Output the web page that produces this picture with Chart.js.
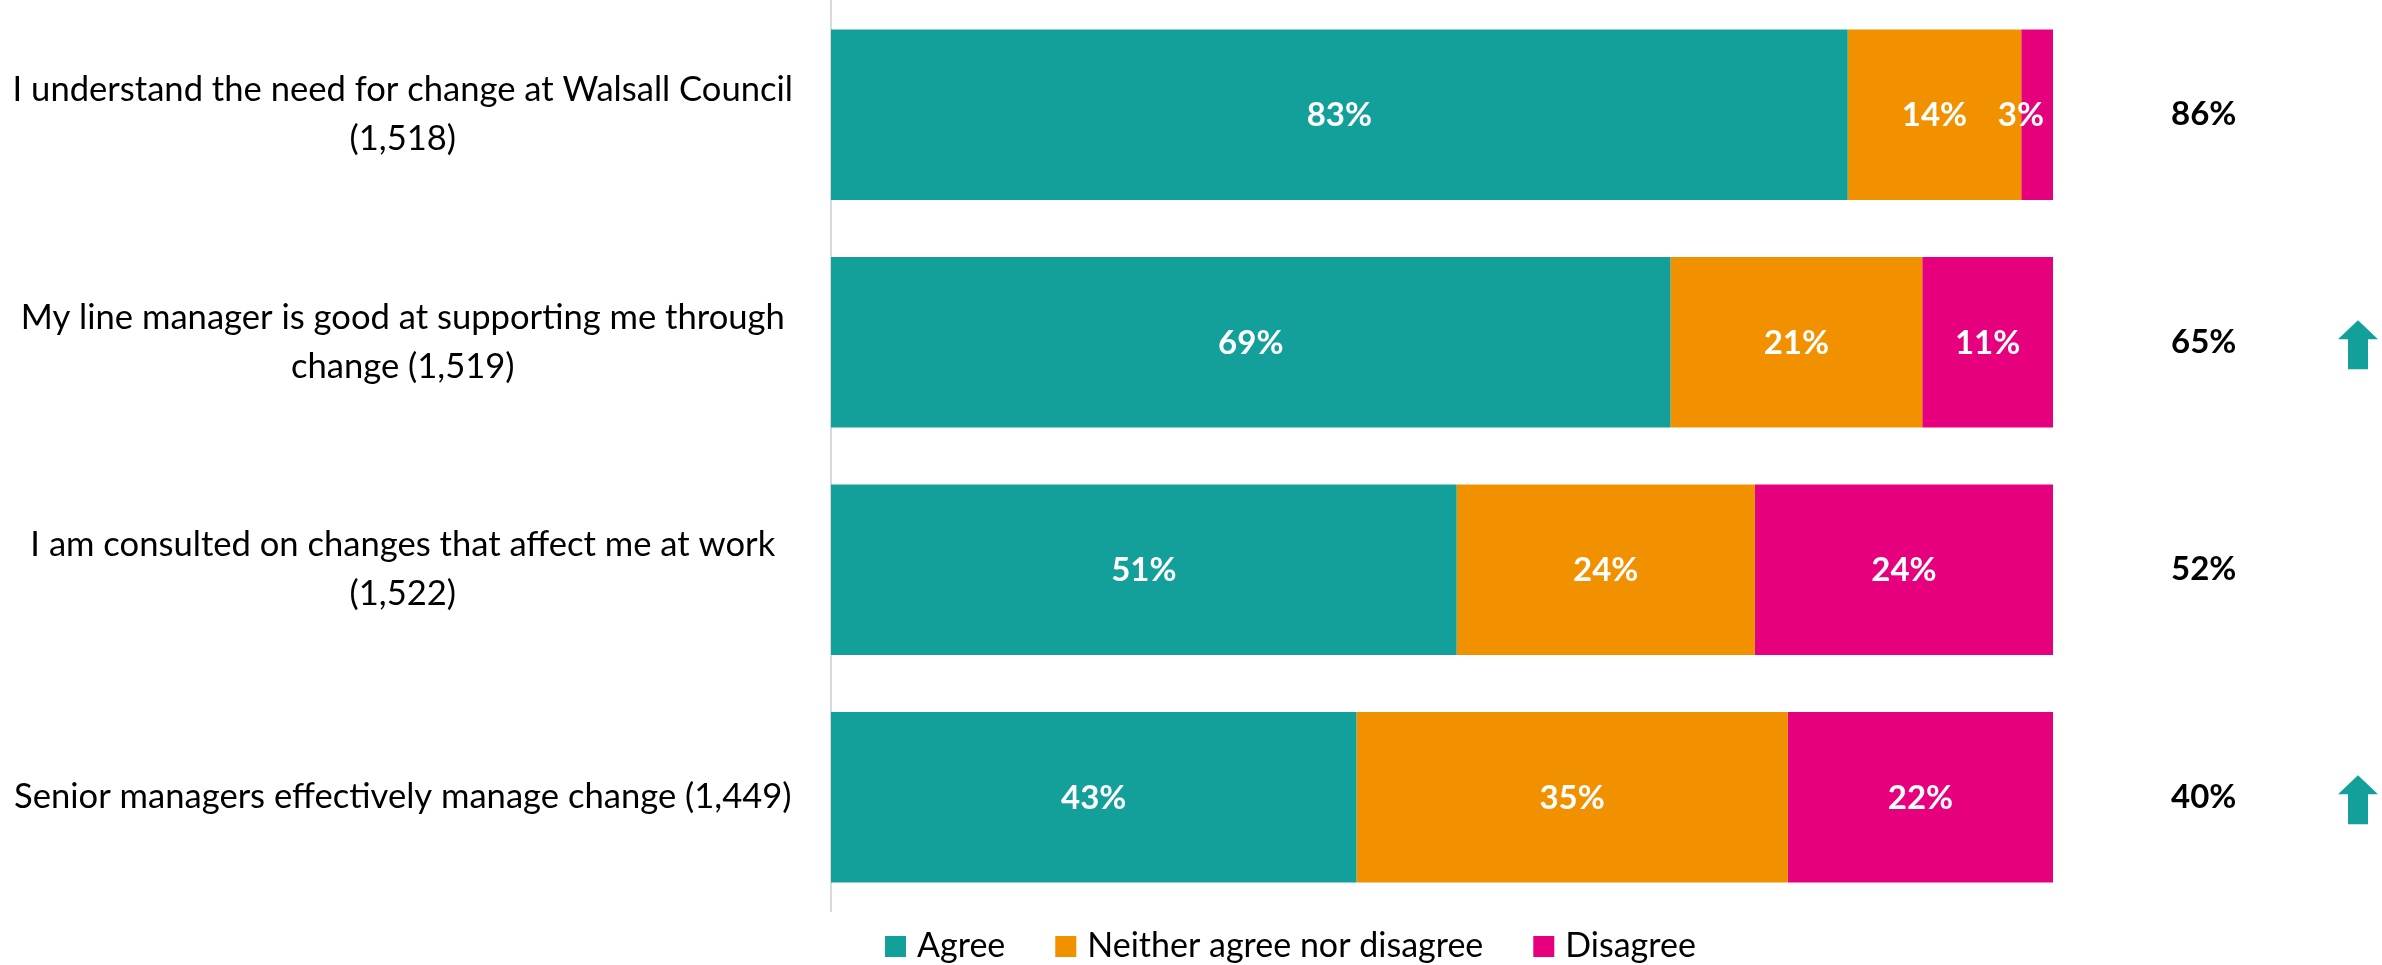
<!DOCTYPE html>
<html>
<head>
<meta charset="utf-8">
<title>Managing change</title>
<script src="https://cdn.jsdelivr.net/npm/chart.js@4.4.1/dist/chart.umd.min.js"></script>
<style>
  html, body { margin: 0; padding: 0; background: #ffffff; }
  #wrap { width: 2382px; height: 965px; position: relative; }
</style>
</head>
<body>
<div id="wrap"><canvas id="chart" width="2382" height="965"></canvas></div>
<script>
// Survey statements (with number of responses)
const categories = [
  ['I understand the need for change at Walsall Council', '(1,518)'],
  ['My line manager is good at supporting me through', 'change (1,519)'],
  ['I am consulted on changes that affect me at work', '(1,522)'],
  ['Senior managers effectively manage change (1,449)']
];

// Response shares, percent of respondents
const agree    = [83.2, 68.7, 51.2, 43.0];
const neither  = [14.2, 20.6, 24.4, 35.3];
const disagree = [2.6, 10.7, 24.4, 21.7];

// Net agreement shown to the right of each bar, and direction of change
const netAgree = [86, 65, 52, 40];
const trend = ['', 'up', '', 'up'];

const seriesNames = ['Agree', 'Neither agree nor disagree', 'Disagree'];
const seriesColors = ['#13A09A', '#F29100', '#E6007E'];

const netLabels = netAgree.map(v => v + '%');
const FONT = 'Lato';

// White percentage labels centred in each segment
const segmentLabels = {
  id: 'segmentLabels',
  afterDatasetsDraw(chart) {
    const { ctx, chartArea } = chart;
    ctx.save();
    ctx.font = 'bold 33px ' + FONT;
    ctx.fillStyle = '#ffffff';
    ctx.textAlign = 'center';
    ctx.textBaseline = 'middle';
    chart.data.datasets.forEach((ds, di) => {
      chart.getDatasetMeta(di).data.forEach((bar, i) => {
        const txt = Math.round(ds.data[i]) + '%';
        const w = ctx.measureText(txt).width;
        let x = (bar.x + bar.base) / 2;
        x = Math.min(x, chartArea.right - 9 - w / 2);
        ctx.fillText(txt, x, bar.y + 1);
      });
    });
    ctx.restore();
  }
};

// Up arrows marking statements that improved
const trendArrows = {
  id: 'trendArrows',
  afterDraw(chart) {
    const { ctx, chartArea } = chart;
    const yScale = chart.scales.y;
    const cx = chartArea.right + 305;
    ctx.save();
    ctx.fillStyle = seriesColors[0];
    trend.forEach((t, i) => {
      if (t !== 'up') return;
      const cy = yScale.getPixelForValue(i);
      const top = cy - 22, neck = cy - 3, bottom = cy + 27;
      ctx.beginPath();
      ctx.moveTo(cx, top);
      ctx.lineTo(cx + 20, neck);
      ctx.lineTo(cx + 10, neck);
      ctx.lineTo(cx + 10, bottom);
      ctx.lineTo(cx - 10, bottom);
      ctx.lineTo(cx - 10, neck);
      ctx.lineTo(cx - 20, neck);
      ctx.closePath();
      ctx.fill();
    });
    ctx.restore();
  }
};

// Legend row under the bars
const legendRow = {
  id: 'legendRow',
  afterDraw(chart) {
    const { ctx, chartArea } = chart;
    ctx.save();
    ctx.font = '34px ' + FONT;
    ctx.textAlign = 'left';
    ctx.textBaseline = 'alphabetic';
    let x = chartArea.left + 54;
    const baseY = chartArea.bottom + 46;
    chart.data.datasets.forEach(ds => {
      ctx.fillStyle = ds.backgroundColor;
      ctx.fillRect(x, baseY - 21, 21, 21);
      x += 21 + 11;
      ctx.fillStyle = '#000000';
      ctx.fillText(ds.label, x, baseY);
      x += ctx.measureText(ds.label).width + 50;
    });
    ctx.restore();
  }
};

// Fixed axis widths; no extra vertical room reserved for tick labels
function fixAxis(width) {
  return function (scale) {
    scale.width = width;
    scale.paddingTop = 0;
    scale.paddingBottom = 0;
  };
}

function build() {
  const ctx = document.getElementById('chart').getContext('2d');
  new Chart(ctx, {
    type: 'bar',
    data: {
      labels: categories,
      datasets: [
        { label: seriesNames[0], data: agree, backgroundColor: seriesColors[0] },
        { label: seriesNames[1], data: neither, backgroundColor: seriesColors[1] },
        { label: seriesNames[2], data: disagree, backgroundColor: seriesColors[2] }
      ]
    },
    options: {
      indexAxis: 'y',
      responsive: false,
      animation: false,
      devicePixelRatio: 1,
      layout: { autoPadding: false, padding: { top: 1, bottom: 54, left: 0, right: 0 } },
      datasets: { bar: { categoryPercentage: 1, barPercentage: 0.75, borderWidth: 0 } },
      scales: {
        x: { stacked: true, min: 0, max: 100, display: false },
        y: {
          stacked: true,
          position: 'left',
          grid: { display: false, drawTicks: false },
          border: { display: true, color: '#d9d9d9', width: 2 },
          ticks: {
            crossAlign: 'center',
            padding: 38,
            color: '#000000',
            font: { family: FONT, size: 34.6, lineHeight: 1.42 }
          },
          afterFit: fixAxis(831)
        },
        net: {
          type: 'category',
          labels: netLabels,
          position: 'right',
          offset: true,
          grid: { display: false, drawTicks: false },
          border: { display: false },
          ticks: {
            crossAlign: 'center',
            padding: 118,
            color: '#000000',
            font: { family: FONT, size: 33, weight: 'bold' }
          },
          afterFit: fixAxis(329)
        }
      },
      plugins: {
        legend: { display: false },
        tooltip: { enabled: false }
      }
    },
    plugins: [segmentLabels, trendArrows, legendRow]
  });
}

Promise.all([
  document.fonts.load('34px Lato'),
  document.fonts.load('bold 33px Lato')
]).then(build, build);
</script>
</body>
</html>
